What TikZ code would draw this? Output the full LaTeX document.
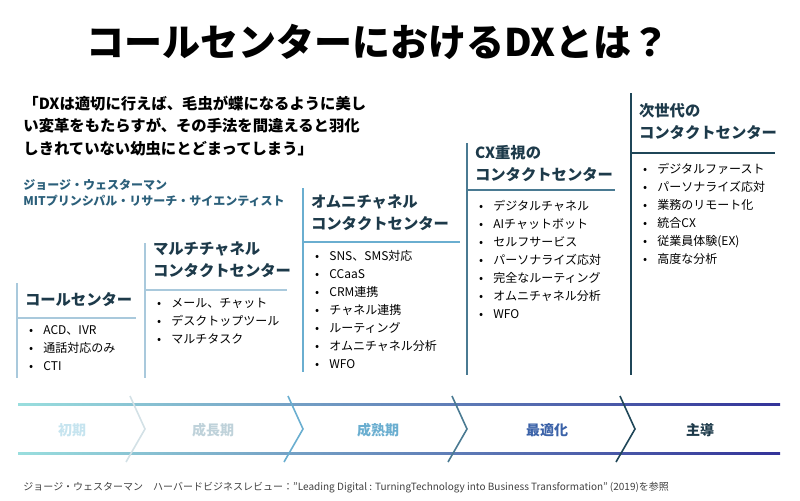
\documentclass[tikz,border=0pt]{standalone}
\usepackage{fontspec}
\setmainfont{Noto Sans CJK JP}
\usetikzlibrary{positioning}
\definecolor{headc}{HTML}{1D3A4A}
\definecolor{authc}{HTML}{2B5F7A}
\definecolor{linea}{HTML}{A9C9DC}
\definecolor{lineb}{HTML}{A9C9DC}
\definecolor{linec}{HTML}{6AAED0}
\definecolor{lined}{HTML}{4A7A92}
\definecolor{linee}{HTML}{1F4658}
\tikzset{title/.style = {font=\bfseries\fontsize{28.5}{30}\selectfont}}
\tikzset{quote/.style = {anchor=west, font=\bfseries\fontsize{11.5}{17}\selectfont, align=left}}
\tikzset{stagehead/.style = {anchor=north west, inner sep=0pt, text=headc, font=\bfseries\fontsize{11.5}{16.5}\selectfont, align=left}}
\tikzset{items/.style = {anchor=north west, inner sep=0pt, font=\fontsize{9}{13.5}\selectfont, align=left}}
\tikzset{phase/.style = {font=\bfseries\fontsize{10.5}{12}\selectfont}}
\newcommand{\bul}{\makebox[1.2em][l]{\textbullet}}

\begin{document}
\begin{tikzpicture}[x=0.75pt, y=-0.75pt, line width=1.5pt]
  \useasboundingbox (0,0) rectangle (800,500);
  \node [title] (head) at (378,42) {コールセンターにおけるDXとは？};

  \node [quote] (words) at (18,126) {「DXは適切に行えば、毛虫が蝶になるように美し\\い変革をもたらすが、その手法を間違えると羽化\\しきれていない幼虫にとどまってしまう」};
  \node [quote, text=authc, font=\bfseries\fontsize{9}{12}\selectfont] (who) at (18,193) {ジョージ・ウェスターマン\\MITプリンシパル・リサーチ・サイエンティスト};

  % stage columns
  \draw [linea] (17,283) -- (17,378);
  \draw [linea] (17,318) -- (136,318);
  \node [stagehead] (s1) at (24,291) {コールセンター};
  \node [items] (i1) at (28,325) {\bul ACD、IVR\\\bul 通話対応のみ\\\bul CTI};

  \draw [lineb] (145,243) -- (145,378);
  \draw [lineb] (145,290) -- (287,290);
  \node [stagehead] (s2) at (152,241) {マルチチャネル\\コンタクトセンター};
  \node [items] (i2) at (156,297) {\bul メール、チャット\\\bul デスクトップツール\\\bul マルチタスク};

  \draw [linec] (303,188) -- (303,372);
  \draw [linec] (303,242) -- (460,242);
  \node [stagehead] (s3) at (310,194) {オムニチャネル\\コンタクトセンター};
  \node [items] (i3) at (314,249) {\bul SNS、SMS対応\\\bul  CCaaS\\\bul  CRM連携\\\bul チャネル連携\\\bul ルーティング\\\bul オムニチャネル分析\\\bul  WFO};

  \draw [lined] (467,143) -- (467,375);
  \draw [lined] (467,190) -- (615,190);
  \node [stagehead] (s4) at (474,144) {CX重視の\\コンタクトセンター};
  \node [items] (i4) at (478,199) {\bul デジタルチャネル\\\bul AIチャットボット\\\bul セルフサービス\\\bul パーソナライズ応対\\\bul 完全なルーティング\\\bul オムニチャネル分析\\\bul WFO};

  \draw [linee] (631,93) -- (631,375);
  \draw [linee] (631,153) -- (775,153);
  \node [stagehead] (s5) at (638,102) {次世代の\\コンタクトセンター};
  \node [items] (i5) at (642,162) {\bul デジタルファースト\\\bul パーソナライズ応対\\\bul 業務のリモート化\\\bul 統合CX\\\bul 従業員体験(EX)\\\bul 高度な分析};

  % time band
  \shade [left color=cyan!35!teal!40, right color=blue!50!black!80] (18,403) rectangle (780,405);
  \shade [left color=cyan!35!teal!40, right color=blue!50!black!80] (18,452) rectangle (780,454);
  \foreach \x/\c in {130/cyan!30!gray!30, 288/linec, 452/lined, 620/linee}
    \draw [\c, line width=1.2pt] (\x,396) -- (\x+15,429) -- (\x-4,462);

  \node [phase, text=gray!40!cyan!30] (p1) at (72,430) {初期};
  \node [phase, text=cyan!30!gray!45] (p2) at (213,430) {成長期};
  \node [phase, text=linec] (p3) at (378,430) {成熟期};
  \node [phase, text=lined!80!blue] (p4) at (547,430) {最適化};
  \node [phase, text=headc] (p5) at (700,430) {主導};

  \node [anchor=west, text=black!75, font=\fontsize{7.5}{9}\selectfont] (src) at (18,488) {ジョージ・ウェスターマン　ハーバードビジネスレビュー：”Leading Digital : TurningTechnology into Business Transformation” (2019)を参照};
\end{tikzpicture}
\end{document}
